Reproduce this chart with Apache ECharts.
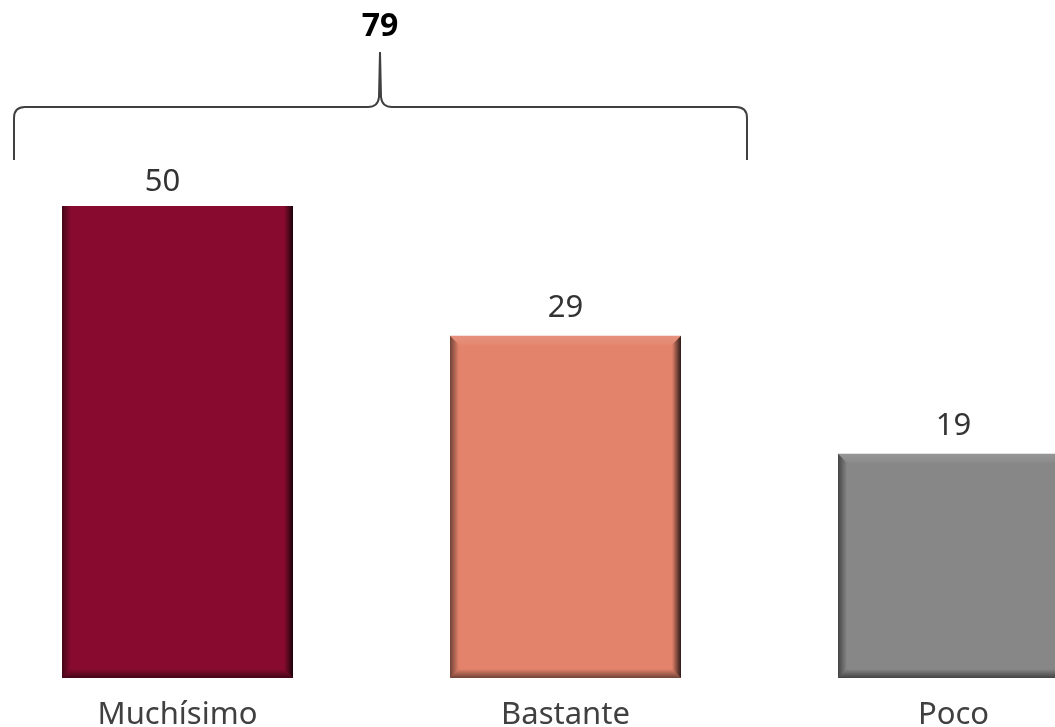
<!DOCTYPE html>
<html><head><meta charset="utf-8">
<script src="https://cdn.jsdelivr.net/npm/echarts@6/dist/echarts.min.js"></script>
<style>html,body{margin:0;padding:0;background:#fff}#c{width:1055px;height:727px}</style>
</head><body><div id="c"></div>
<script>
const categories = ['Muchísimo', 'Bastante', 'Poco'];
const values = [50, 29, 19];
const groupTotal = 79;
const barColors = ['#880b2f', '#e3836c', '#878787'];
const FONT = 'Noto Sans';
const BAR_W = 231;
const BEVEL = 9;

function lg(x, y, x2, y2, a, b) {
  return { type: 'linear', x, y, x2, y2, colorStops: [{ offset: 0, color: a }, { offset: 1, color: b }] };
}

function bevelItem(params, api) {
  const i = api.value(0), v = api.value(1);
  const top = api.coord([i, v]);
  const base = api.coord([i, 0]);
  const x0 = top[0] - BAR_W / 2, x1 = top[0] + BAR_W / 2;
  const y0 = top[1], y1 = base[1];
  const b = BEVEL;
  return {
    type: 'group',
    children: [
      { type: 'polygon', shape: { points: [[x0, y0], [x0 + b, y0 + b], [x0 + b, y1 - b], [x0, y1]] },
        style: { fill: lg(0, 0, 1, 0, 'rgba(0,0,0,0.5)', 'rgba(0,0,0,0)') } },
      { type: 'polygon', shape: { points: [[x1, y0], [x1 - b, y0 + b], [x1 - b, y1 - b], [x1, y1]] },
        style: { fill: lg(1, 0, 0, 0, 'rgba(0,0,0,0.8)', 'rgba(0,0,0,0)') } },
      { type: 'polygon', shape: { points: [[x0, y0], [x1, y0], [x1 - b, y0 + b], [x0 + b, y0 + b]] },
        style: { fill: lg(0, 0, 0, 1, 'rgba(255,255,255,0.12)', 'rgba(255,255,255,0.04)') } },
      { type: 'polygon', shape: { points: [[x0, y1], [x1, y1], [x1 - b, y1 - b], [x0 + b, y1 - b]] },
        style: { fill: lg(0, 1, 0, 0, 'rgba(0,0,0,0.5)', 'rgba(0,0,0,0)') } }
    ]
  };
}

const braceStyle = { stroke: '#404040', lineWidth: 2, fill: 'none' };
function ln(x1, y1, x2, y2) { return { type: 'line', shape: { x1, y1, x2, y2 }, style: braceStyle }; }
function bz(x1, y1, cx, cy, x2, y2) { return { type: 'bezierCurve', shape: { x1, y1, cpx1: cx, cpy1: cy, x2, y2 }, style: braceStyle }; }

const chart = echarts.init(document.getElementById('c'));
chart.setOption({
  animation: false,
  grid: { left: -16.5, right: -92.5, top: 206, bottom: 49, containLabel: false, outerBoundsMode: 'none' },
  xAxis: {
    type: 'category', data: categories,
    axisLine: { show: false }, axisTick: { show: false },
    axisLabel: { fontFamily: FONT, fontSize: 31, color: '#404040', margin: 22 }
  },
  yAxis: { type: 'value', min: 0, max: 40, show: false, splitLine: { show: false } },
  series: [
    {
      type: 'bar', barWidth: BAR_W, clip: true,
      data: values.map((v, i) => ({
        value: v, itemStyle: { color: barColors[i] },
        label: i === 0 ? { offset: [-15, 4] } : {}
      })),
      label: { show: true, position: 'top', distance: 12, fontFamily: FONT, fontSize: 31, color: '#333' }
    },
    {
      type: 'custom', clip: true, z: 3, silent: true,
      data: values.map((v, i) => [i, v]),
      encode: { x: 0, y: 1 },
      renderItem: bevelItem
    }
  ],
  graphic: [
    ln(14, 160, 14, 118), bz(14, 118, 14, 107, 25, 107), ln(25, 107, 368, 107),
    bz(368, 107, 378, 107, 379, 97), ln(379, 97, 380, 52), ln(380, 52, 381, 97),
    bz(381, 97, 382, 107, 392, 107), ln(392, 107, 736, 107),
    bz(736, 107, 747, 107, 747, 118), ln(747, 118, 747, 160),
    {
      type: 'text', x: 380, y: 27,
      style: { text: String(groupTotal), fontFamily: FONT, fontWeight: 'bold', fontSize: 32, fill: '#000', align: 'center', verticalAlign: 'middle' }
    }
  ]
});
</script></body></html>
